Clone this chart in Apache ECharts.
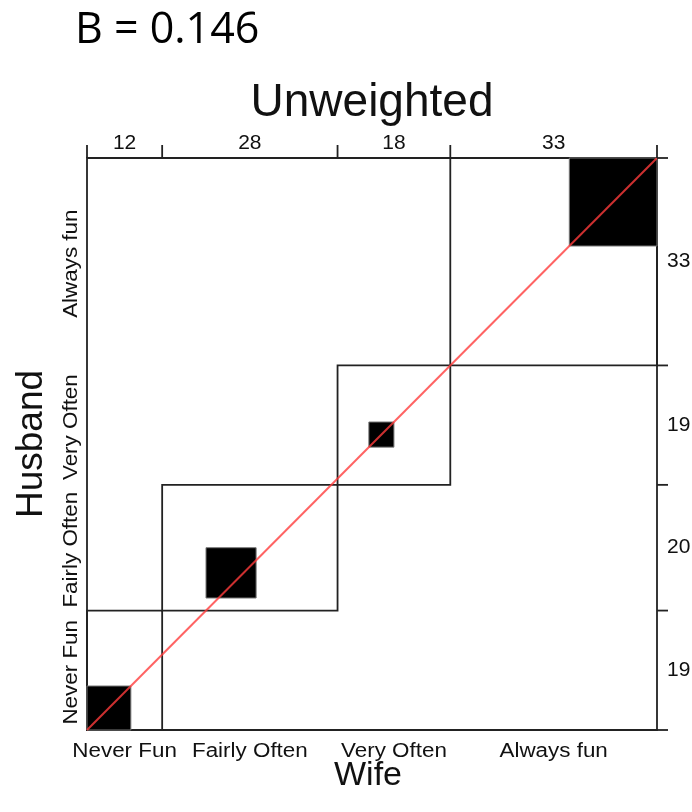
<!DOCTYPE html>
<html>
<head>
<meta charset="utf-8">
<script src="https://cdn.jsdelivr.net/npm/echarts@6/dist/echarts.min.js"></script>
<style>
  html, body { margin: 0; padding: 0; background: #fff; }
  #chart { width: 692px; height: 812px; }
</style>
</head>
<body>
<div id="chart"></div>
<script>
// Agreement chart: Husband (rows) by Wife (columns), counts per cell
const categories = ['Never Fun', 'Fairly Often', 'Very Often', 'Always fun'];
const husbandNeverFun = [7, 7, 2, 3];
const husbandFairlyOften = [2, 8, 3, 7];
const husbandVeryOften = [1, 5, 4, 9];
const husbandAlwaysFun = [2, 8, 9, 14];
const statText = 'B = 0.146';
const titleText = 'Unweighted';
const xName = 'Wife';
const yName = 'Husband';

const table = [husbandNeverFun, husbandFairlyOften, husbandVeryOften, husbandAlwaysFun];
const k = categories.length;
const rowTotals = table.map(r => r.reduce((a, b) => a + b, 0));
const colTotals = categories.map((_, j) => table.reduce((a, r) => a + r[j], 0));
const total = rowTotals.reduce((a, b) => a + b, 0);
const xCum = [0];
const yCum = [0];
for (let i = 0; i < k; i++) {
  xCum.push(xCum[i] + colTotals[i]);
  yCum.push(yCum[i] + rowTotals[i]);
}

// outer rectangle per category: column total wide, row total high
const boxData = categories.map((_, i) => [xCum[i], yCum[i], colTotals[i], rowTotals[i]]);
// exact-agreement squares, shifted by the off-diagonal counts before them
const agreeData = categories.map((_, i) => {
  let xOff = 0, yOff = 0;
  for (let r = 0; r < i; r++) xOff += table[r][i];
  for (let c = 0; c < i; c++) yOff += table[i][c];
  const n = table[i][i];
  return [xCum[i] + xOff, yCum[i] + yOff, n, n];
});
const colAxisData = categories.map((_, i) => [xCum[i], xCum[i + 1], colTotals[i]]);
const rowAxisData = categories.map((_, i) => [yCum[i], yCum[i + 1], rowTotals[i]]);

const LINE = '#222';
const LW = 1.8;
const FONT = '"Liberation Sans", Arial, Helvetica, sans-serif';
const LABEL_FONT = '20px ' + FONT;
const LABEL_STRETCH = 1.12;

function rectItem(params, api, style) {
  const x0 = api.value(0), y0 = api.value(1), w = api.value(2), h = api.value(3);
  const p0 = api.coord([x0, y0]);
  const p1 = api.coord([x0 + w, y0 + h]);
  return {
    type: 'rect',
    shape: { x: p0[0], y: p1[1], width: p1[0] - p0[0], height: p0[1] - p1[1] },
    style: style
  };
}

const chart = echarts.init(document.getElementById('chart'), null, { renderer: 'canvas' });

chart.setOption({
  animation: false,
  backgroundColor: '#fff',
  grid: {
    left: 87, top: 158, width: 570, height: 572,
    show: true, borderColor: LINE, borderWidth: LW, backgroundColor: 'transparent'
  },
  xAxis: { type: 'value', min: 0, max: total, show: false },
  yAxis: { type: 'value', min: 0, max: total, show: false },
  graphic: [
    {
      type: 'text', left: 75, top: 9,
      style: { text: statText, font: '43px "Open Sans", sans-serif', fill: '#000' }
    },
    {
      type: 'text', x: 372, y: 103,
      style: { text: titleText, font: '46px ' + FONT, fill: '#111', align: 'center', verticalAlign: 'middle' }
    },
    {
      type: 'text', x: 368, y: 776,
      style: { text: xName, font: '34px ' + FONT, fill: '#111', align: 'center', verticalAlign: 'middle' }
    },
    {
      type: 'text', x: 32, y: 444, rotation: Math.PI / 2,
      style: { text: yName, font: '37px ' + FONT, fill: '#111', align: 'center', verticalAlign: 'middle' }
    }
  ],
  series: [
    {
      // category rectangles
      type: 'custom',
      coordinateSystem: 'cartesian2d',
      data: boxData,
      renderItem: (params, api) => rectItem(params, api, { fill: 'none', stroke: LINE, lineWidth: LW }),
      z: 2
    },
    {
      // exact agreement squares
      type: 'custom',
      coordinateSystem: 'cartesian2d',
      data: agreeData,
      renderItem: (params, api) => rectItem(params, api, { fill: '#000', stroke: '#777', lineWidth: 1 }),
      z: 3
    },
    {
      // perfect agreement diagonal
      type: 'line',
      data: [[0, 0], [total, total]],
      symbol: 'none',
      lineStyle: { color: 'rgb(255,60,60)', width: 2, opacity: 0.8 },
      silent: true,
      z: 4
    },
    {
      // top margin: column totals with boundary ticks, and column names below
      type: 'custom',
      coordinateSystem: 'cartesian2d',
      data: colAxisData,
      renderItem: (params, api) => {
        const a = api.value(0), b = api.value(1), n = api.value(2);
        const pTop0 = api.coord([a, total]);
        const pTop1 = api.coord([b, total]);
        const pBot = api.coord([(a + b) / 2, 0]);
        const children = [
          { type: 'line', shape: { x1: pTop0[0], y1: pTop0[1], x2: pTop0[0], y2: pTop0[1] - 13 }, style: { stroke: LINE, lineWidth: LW } },
          { type: 'text', x: (pTop0[0] + pTop1[0]) / 2, y: pTop0[1] - 15, scaleX: 1.05,
            style: { text: String(n), font: '20px ' + FONT, fill: '#111', align: 'center', verticalAlign: 'middle' } },
          { type: 'text', x: pBot[0], y: pBot[1] + 21, scaleX: LABEL_STRETCH,
            style: { text: categories[params.dataIndex], font: LABEL_FONT, fill: '#111', align: 'center', verticalAlign: 'middle' } }
        ];
        if (params.dataIndex === k - 1) {
          children.push({ type: 'line', shape: { x1: pTop1[0], y1: pTop1[1], x2: pTop1[0], y2: pTop1[1] - 13 }, style: { stroke: LINE, lineWidth: LW } });
        }
        return { type: 'group', children: children };
      },
      z: 5
    },
    {
      // right margin: row totals with boundary ticks, and row names on the left
      type: 'custom',
      coordinateSystem: 'cartesian2d',
      data: rowAxisData,
      renderItem: (params, api) => {
        const a = api.value(0), b = api.value(1), n = api.value(2);
        const pR0 = api.coord([total, a]);
        const pR1 = api.coord([total, b]);
        const pL = api.coord([0, (a + b) / 2]);
        const children = [
          { type: 'line', shape: { x1: pR0[0], y1: pR0[1], x2: pR0[0] + 11, y2: pR0[1] }, style: { stroke: LINE, lineWidth: LW } },
          { type: 'text', x: pR0[0] + 10, y: (pR0[1] + pR1[1]) / 2, scaleX: 1.05,
            style: { text: String(n), font: '20px ' + FONT, fill: '#111', align: 'left', verticalAlign: 'middle' } },
          { type: 'text', x: pL[0] - 16, y: pL[1] + 2, rotation: Math.PI / 2, scaleX: LABEL_STRETCH,
            style: { text: categories[params.dataIndex], font: LABEL_FONT, fill: '#111', align: 'center', verticalAlign: 'middle' } }
        ];
        if (params.dataIndex === k - 1) {
          children.push({ type: 'line', shape: { x1: pR1[0], y1: pR1[1], x2: pR1[0] + 11, y2: pR1[1] }, style: { stroke: LINE, lineWidth: LW } });
        }
        return { type: 'group', children: children };
      },
      z: 5
    }
  ]
});
</script>
</body>
</html>
